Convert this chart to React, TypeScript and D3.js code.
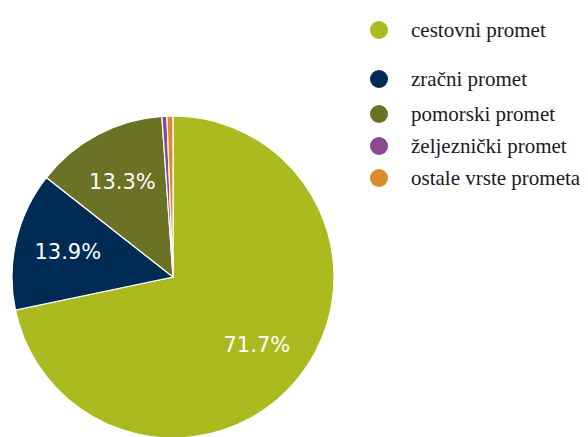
import React from 'react';
import * as d3 from 'd3';

const categories = ['cestovni promet', 'zračni promet', 'pomorski promet', 'željeznički promet', 'ostale vrste prometa'];
const shares = [71.7, 13.9, 13.3, 0.5, 0.6];
const colors = ['#abbb1f', '#002b55', '#6b7226', '#8c4a8e', '#df8a28'];
const labelTexts = ['71.7%', '13.9%', '13.3%', '', ''];
const legendY = [30, 79, 114, 146, 178];

const W = 588;
const H = 437;

function App() {
  const cx = 173;
  const cy = 277;
  const r = 161;

  const pie = d3.pie<number>().sort(null).value(d => d);
  const arcs = pie(shares);
  const arc = d3.arc<d3.PieArcDatum<number>>().innerRadius(0).outerRadius(r);
  const labelArc = d3.arc<d3.PieArcDatum<number>>().innerRadius(108).outerRadius(108);

  return (
    <svg width={W} height={H} style={{ position: 'absolute', left: 0, top: 0, background: '#fff' }}>
      <g transform={`translate(${cx},${cy})`}>
        {arcs.map((a, i) => (
          <path key={i} d={arc(a) || ''} fill={colors[i]} stroke="#fff" strokeWidth={1.2} />
        ))}
        {arcs.map((a, i) => {
          if (!labelTexts[i]) return null;
          const [x, y] = labelArc.centroid(a);
          return (
            <text key={i} x={x} y={y} textAnchor="middle" dominantBaseline="central"
              fill="#fff" fontFamily="'DejaVu Sans', Verdana, sans-serif" fontSize={21}>
              {labelTexts[i]}
            </text>
          );
        })}
      </g>
      <g>
        {categories.map((c, i) => (
          <g key={c}>
            <circle cx={379} cy={legendY[i]} r={9} fill={colors[i]} />
            <text x={411} y={legendY[i]} dominantBaseline="central" fill="#1a1a2a"
              fontFamily="'Liberation Serif', 'Times New Roman', serif" fontSize={21}>
              {c}
            </text>
          </g>
        ))}
      </g>
    </svg>
  );
}

export default App;
